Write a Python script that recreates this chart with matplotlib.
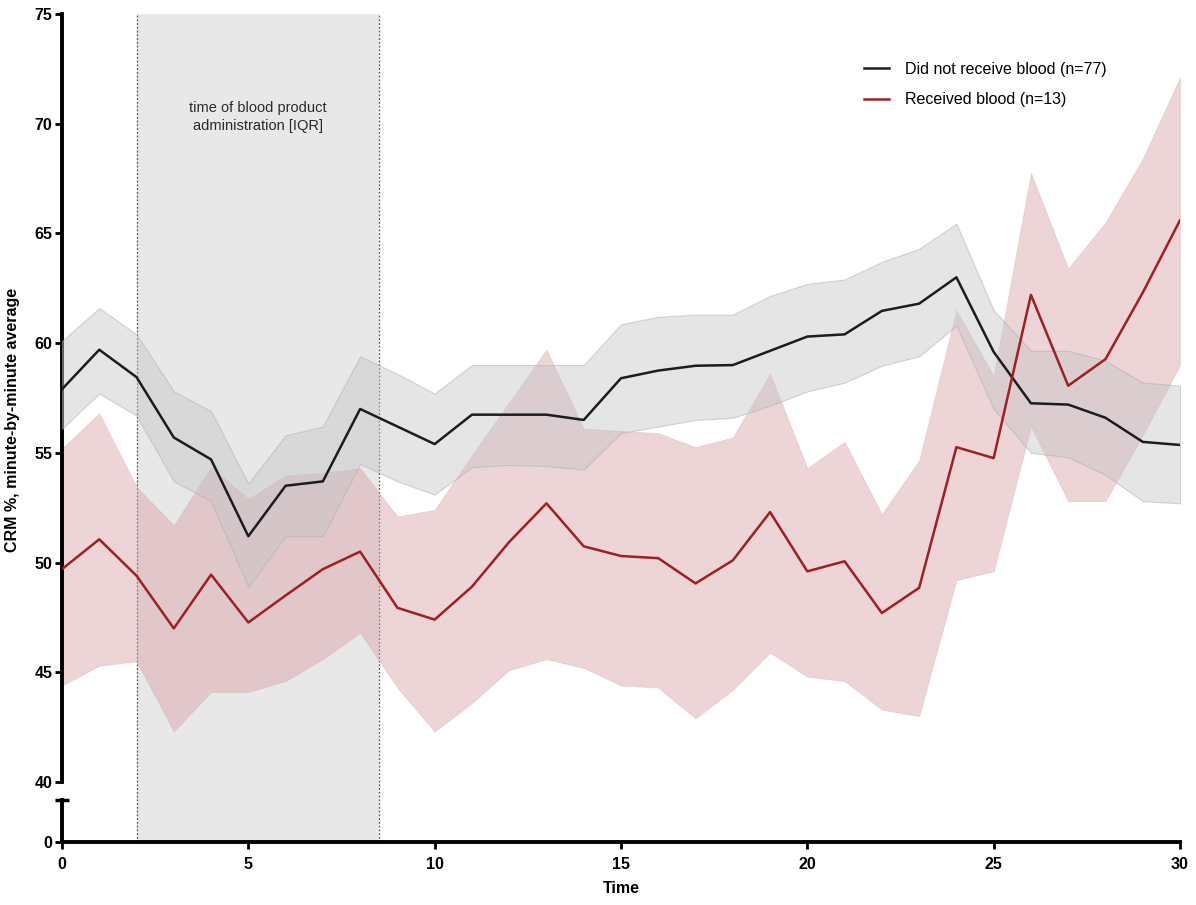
import matplotlib
matplotlib.use("Agg")
import matplotlib.pyplot as plt
import numpy as np

plt.rcParams['font.family'] = ['Liberation Sans', 'DejaVu Sans']

time = list(range(31))

no_blood_mean = [57.9, 59.7, 58.45, 55.7, 54.7, 51.2, 53.5, 53.7, 57.0, 56.2, 55.4,
                 56.74, 56.74, 56.74, 56.5, 58.4, 58.75, 58.97, 59.0, 59.65, 60.3,
                 60.4, 61.47, 61.8, 63.0, 59.6, 57.26, 57.2, 56.6, 55.5, 55.36]
no_blood_upper = [60.1, 61.6, 60.4, 57.8, 56.9, 53.6, 55.8, 56.2, 59.4, 58.6, 57.7,
                  59.0, 59.0, 59.0, 59.0, 60.86, 61.2, 61.3, 61.3, 62.15, 62.7,
                  62.9, 63.7, 64.3, 65.45, 61.5, 59.65, 59.65, 59.2, 58.2, 58.06]
no_blood_lower = [56.1, 57.7, 56.7, 53.7, 52.8, 48.9, 51.2, 51.2, 54.5, 53.7, 53.1,
                  54.35, 54.45, 54.4, 54.24, 55.9, 56.2, 56.5, 56.6, 57.15, 57.8,
                  58.2, 58.97, 59.4, 60.8, 57.0, 55.0, 54.8, 54.0, 52.8, 52.7]

blood_mean = [49.7, 51.06, 49.4, 47.0, 49.45, 47.27, 48.5, 49.7, 50.5, 47.94, 47.4,
              48.9, 50.94, 52.7, 50.74, 50.3, 50.2, 49.05, 50.1, 52.3, 49.6,
              50.06, 47.7, 48.85, 55.26, 54.76, 62.2, 58.06, 59.27, 62.3, 65.6]
blood_upper = [55.2, 56.8, 53.45, 51.7, 54.35, 52.9, 53.97, 54.1, 54.3, 52.1, 52.4,
               54.9, 57.3, 59.7, 56.1, 56.0, 55.9, 55.26, 55.7, 58.6, 54.3,
               55.5, 52.2, 54.65, 61.5, 58.5, 67.75, 63.4, 65.5, 68.4, 72.1]
blood_lower = [44.4, 45.3, 45.5, 42.3, 44.1, 44.1, 44.6, 45.6, 46.8, 44.3, 42.3,
               43.6, 45.1, 45.6, 45.2, 44.4, 44.3, 42.9, 44.2, 45.9, 44.8,
               44.6, 43.3, 43.0, 49.2, 49.6, 56.2, 52.8, 52.8, 55.8, 59.0]

iqr_start, iqr_end = 2.0, 8.5
labels = ["Did not receive blood (n=77)", "Received blood (n=13)"]

W, H = 1196, 905
fig = plt.figure(figsize=(W / 100, H / 100), dpi=100)
x0, x1 = 62 / W, 1180 / W

# background axes for the IQR span, running through the axis break
axbg = fig.add_axes([x0, 1 - 842 / H, x1 - x0, (842 - 14) / H])
axbg.set_xlim(0, 30)
axbg.set_ylim(0, 1)
axbg.axis("off")
axbg.axvspan(iqr_start, iqr_end, color="#e8e8e8", zorder=0, lw=0)
for xv in (iqr_start, iqr_end):
    axbg.axvline(xv, color="#555555", ls=(0, (1.5, 1.5)), lw=0.9, zorder=1)

ax = fig.add_axes([x0, 1 - 782 / H, x1 - x0, (782 - 14) / H])
axb = fig.add_axes([x0, 1 - 842 / H, x1 - x0, (842 - 800) / H])

grey_line = "#1c1c1c"
red_line = "#9e1f24"

for a in (ax, axb):
    a.patch.set_visible(False)
    a.set_xlim(0, 30)
    for s in ("top", "right"):
        a.spines[s].set_visible(False)

ax.fill_between(time, blood_lower, blood_upper, color="#d9a0a7", alpha=0.45,
                lw=0.6, edgecolor="#d7b2b6", zorder=2)
ax.fill_between(time, no_blood_lower, no_blood_upper, color="#c6c6c6", alpha=0.45,
                lw=0.8, edgecolor="#a8a8a8", zorder=3)
ax.plot(time, no_blood_mean, color=grey_line, lw=1.8, zorder=5, label=labels[0])
ax.plot(time, blood_mean, color=red_line, lw=1.8, zorder=5, label=labels[1])

ax.set_ylim(40, 75)
ax.set_yticks([40, 45, 50, 55, 60, 65, 70, 75])
ax.spines["bottom"].set_visible(False)
ax.spines["left"].set_linewidth(2.8)
ax.tick_params(axis="x", bottom=False, labelbottom=False)
ax.tick_params(axis="y", direction="out", length=5, width=2, labelsize=11.5, pad=2)
for lab in ax.get_yticklabels():
    lab.set_fontweight("bold")

axb.set_ylim(0, 1.9)
axb.set_yticks([0])
axb.spines["left"].set_linewidth(2.8)
axb.spines["bottom"].set_linewidth(2.8)
axb.set_xticks([0, 5, 10, 15, 20, 25, 30])
axb.tick_params(axis="both", direction="out", length=5, width=2, labelsize=11.5, pad=2)
axb.tick_params(axis="x", pad=6)
for lab in axb.get_yticklabels() + axb.get_xticklabels():
    lab.set_fontweight("bold")
axb.set_xlabel("Time", fontsize=11.5, fontweight="bold", labelpad=6)
axb.plot([0], [1.9], marker="_", ms=10, mew=2.5, color="black", clip_on=False, zorder=6)

ax.text((iqr_start + iqr_end) / 2, 70.3, "time of blood product\nadministration [IQR]",
        ha="center", va="center", fontsize=10.5, color="#2a2a2a", linespacing=1.35)

leg = ax.legend(loc="upper left", bbox_to_anchor=((868 - 62) / (1180 - 62) - 0.004, 1 - (62 - 14) / 768),
                frameon=False, fontsize=11.5, handlelength=1.6, handletextpad=1.0,
                labelspacing=0.95, borderaxespad=0, borderpad=0)

fig.text(13 / W, 1 - 420 / H, "CRM %, minute-by-minute average", rotation=90,
         ha="center", va="center", fontsize=11.5, fontweight="bold")

fig.savefig("out.png", dpi=100)
